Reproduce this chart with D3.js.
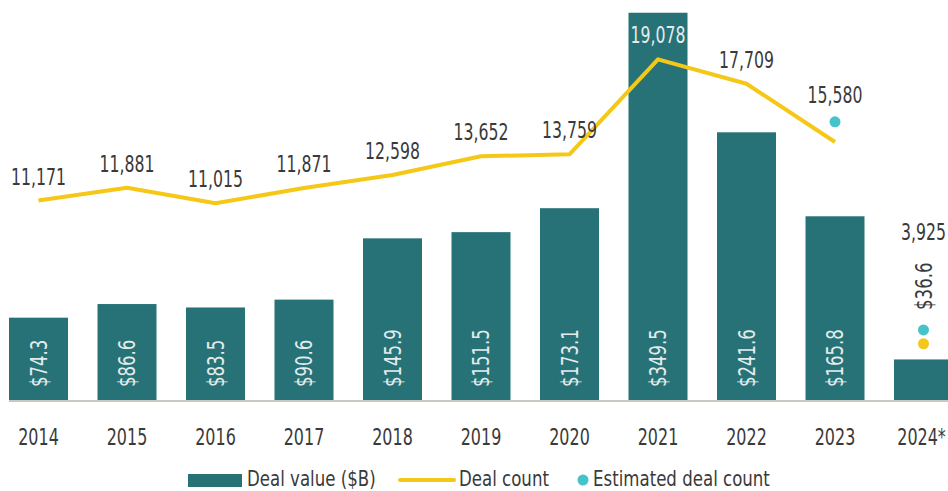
<!DOCTYPE html>
<html>
<head>
<meta charset="utf-8">
<script src="https://cdnjs.cloudflare.com/ajax/libs/d3/7.8.5/d3.min.js"></script>
<style>
  body { margin: 0; background: #fff; }
  svg text { font-family: "DejaVu Sans Condensed", "DejaVu Sans", sans-serif; font-stretch: condensed; fill: #3a3a3a; }
</style>
</head>
<body>
<svg id="chart" width="948" height="491"></svg>
<script>
let years = ["2014", "2015", "2016", "2017", "2018", "2019", "2020", "2021", "2022", "2023", "2024*"];
let dealValue = [74.3, 86.6, 83.5, 90.6, 145.9, 151.5, 173.1, 349.5, 241.6, 165.8, 36.6];
// actual deal count (line); 2024 shown only as a dot
let dealCount = [11171, 11881, 11015, 11871, 12598, 13652, 13759, 19078, 17709, 14450, 3150];
let estYears = ["2023", "2024*"];
let estCount = [15580, 3925];
let legendLabels = ["Deal value ($B)", "Deal count", "Estimated deal count"];

const teal = "#277276",
yellow = "#f5c818",
cyan = "#45c3ca";

let svg = d3.select("#chart"),
width = +svg.attr("width"),
height = +svg.attr("height");

let baseY = 400;

// narrow typeface look: horizontal squeeze via transform
function place(px, py, ratio, rot) {
  return "translate(" + px + "," + py + ")" + (rot ? " rotate(" + rot + ")" : "") + " scale(" + ratio + ",1)";
}

let x = d3.scaleBand().
domain(years).
range([-5.75, 967.75]).
paddingInner(1 / 3).
paddingOuter(1 / 6);

let yBar = d3.scaleLinear().domain([0, 361]).range([baseY, 0]);
let yLine = d3.scaleLinear().domain([0, 22400]).range([baseY, 0]);

let cx = d => x(d) + x.bandwidth() / 2;

// bars
svg.append("g").
selectAll("rect").
data(years).
enter().append("rect").
attr("x", d => x(d)).
attr("y", (d, i) => yBar(dealValue[i])).
attr("width", x.bandwidth()).
attr("height", (d, i) => baseY - yBar(dealValue[i])).
attr("fill", teal);

// baseline
svg.append("line").
attr("x1", x(years[0])).
attr("x2", width).
attr("y1", baseY + 1).
attr("y2", baseY + 1).
attr("stroke", "#c9c9c2").
attr("stroke-width", 2);

// value labels inside bars (rotated)
let lastIdx = years.length - 1;
svg.append("g").
selectAll("text").
data(years).
enter().append("text").
attr("transform", (d, i) => {
  let ty = i === lastIdx ? yLine(estCount[1]) - 20 : baseY - 13;
  return place(cx(d) + 8, ty, 0.8, -90);
}).
attr("text-anchor", "start").
style("font-size", "23px").
style("fill", (d, i) => i === lastIdx ? "#3a3a3a" : "#e3ecec").
text((d, i) => "$" + dealValue[i].toFixed(1));

// deal count line (through 2023)
let lineData = years.slice(0, lastIdx).map((d, i) => [cx(d), yLine(dealCount[i])]);
svg.append("path").
datum(lineData).
attr("d", d3.line()).
attr("fill", "none").
attr("stroke", yellow).
attr("stroke-width", 4).
attr("stroke-linejoin", "round");

// 2024 actual count dot
svg.append("circle").
attr("cx", cx(years[lastIdx])).
attr("cy", yLine(dealCount[lastIdx])).
attr("r", 5.5).
attr("fill", yellow);

// estimated dots
svg.append("g").
selectAll("circle").
data(estYears).
enter().append("circle").
attr("cx", d => cx(d)).
attr("cy", (d, i) => yLine(estCount[i])).
attr("r", 5.5).
attr("fill", cyan);

// count labels
let countLabels = years.map((d, i) => {
  let ei = estYears.indexOf(d);
  let v = ei >= 0 ? estCount[ei] : dealCount[i];
  let ly = ei >= 0 ? yLine(v) - 19 : yLine(v) - 16;
  if (i === lastIdx) ly = yLine(v) - 90;
  return { year: d, v: v, y: ly, inBar: yBar(dealValue[i]) < ly - 18 };
});

svg.append("g").
selectAll("text").
data(countLabels).
enter().append("text").
attr("transform", d => place(cx(d.year), d.y, 0.76)).
attr("text-anchor", "middle").
style("font-size", "23px").
style("fill", d => d.inBar ? "#e3ecec" : "#3a3a3a").
text(d => d3.format(",")(d.v));

// x axis labels
svg.append("g").
selectAll("text").
data(years).
enter().append("text").
attr("transform", (d, i) => place(cx(d) - (i === lastIdx ? 2 : 0), 445, 0.77)).
attr("text-anchor", "middle").
style("font-size", "23px").
text(d => d);

// legend
let legend = svg.append("g").attr("transform", "translate(0,480)");
legend.append("rect").
attr("x", 188).attr("y", -6).
attr("width", 54).attr("height", 13).
attr("fill", teal);
legend.append("line").
attr("x1", 400).attr("x2", 454).
attr("stroke", yellow).attr("stroke-width", 4).attr("stroke-linecap", "round");
legend.append("circle").
attr("cx", 583).attr("r", 5.5).
attr("fill", cyan);
legend.selectAll("text").
data(legendLabels).
enter().append("text").
attr("transform", (d, i) => place([247, 459, 593][i], 5.5, 0.84)).
style("font-size", "22px").
text(d => d);
</script>
</body>
</html>
